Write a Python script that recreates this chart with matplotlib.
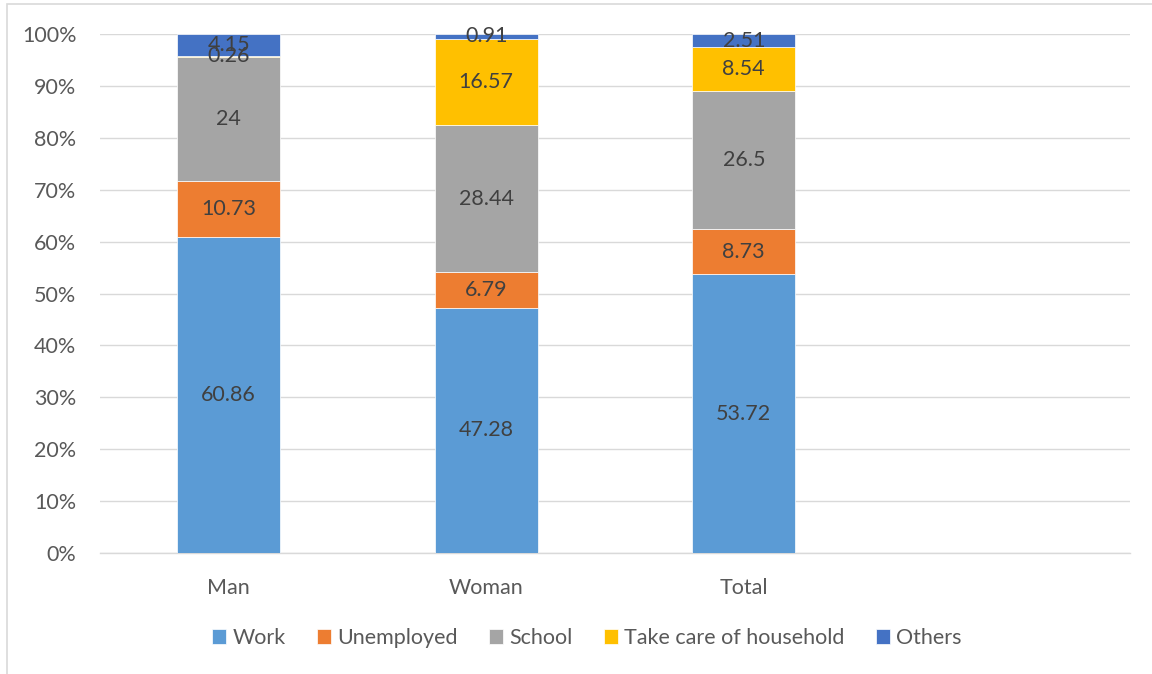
import matplotlib
matplotlib.use("Agg")
import matplotlib.pyplot as plt
from matplotlib.patches import Rectangle
import numpy as np

categories = ["Man", "Woman", "Total"]
series_names = ["Work", "Unemployed", "School", "Take care of household", "Others"]
work = [60.86, 47.28, 53.72]
unemployed = [10.73, 6.79, 8.73]
school = [24, 28.44, 26.5]
household = [0.26, 16.57, 8.54]
others = [4.15, 0.91, 2.51]
label_text = [
    ["60.86", "47.28", "53.72"],
    ["10.73", "6.79", "8.73"],
    ["24", "28.44", "26.5"],
    ["0.26", "16.57", "8.54"],
    ["4.15", "0.91", "2.51"],
]
colors = ["#5B9BD5", "#ED7D31", "#A5A5A5", "#FFC000", "#4472C4"]

plt.rcParams['font.family'] = ['Lato', 'DejaVu Sans']

fig = plt.figure(figsize=(11.52, 6.74), dpi=100)
ax = fig.add_axes([100/1152, 1-553/674, (1130-100)/1152, (553-34)/674])

data = [work, unemployed, school, household, others]
x = np.arange(len(categories))
bottom = np.zeros(len(categories))
totals = np.sum(np.array(data, dtype=float), axis=0)
for i, (vals, name, c) in enumerate(zip(data, series_names, colors)):
    vals = np.array(vals, dtype=float)
    pct = vals / totals * 100
    ax.bar(x, pct, bottom=bottom, width=0.4, color=c, label=name,
           edgecolor="white", linewidth=0.5, zorder=3)
    for j in range(len(categories)):
        ax.text(x[j], bottom[j] + pct[j] / 2, label_text[i][j], ha="center",
                va="center", fontsize=15.5, color="#404040", zorder=4)
    bottom += pct

ax.set_xlim(-0.5, 3.5)
ax.set_ylim(0, 100)
ax.set_yticks(np.arange(0, 101, 10))
ax.set_yticklabels([f"{v}%" for v in range(0, 101, 10)])
ax.set_xticks(x)
ax.set_xticklabels(categories)
ax.tick_params(axis="both", length=0, labelsize=15.5, labelcolor="#595959")
ax.tick_params(axis="y", pad=17)
ax.tick_params(axis="x", pad=18)
ax.grid(axis="y", color="#D9D9D9", linewidth=1, zorder=0)
for s in ["top", "right", "left"]:
    ax.spines[s].set_visible(False)
ax.spines["bottom"].set_color("#D9D9D9")
ax.spines["bottom"].set_linewidth(1)

leg = ax.legend(loc="center", bbox_to_anchor=(587/1152, 1-638/674),
                bbox_transform=fig.transFigure, ncol=5, frameon=False,
                fontsize=15.5, handlelength=0.65, handleheight=0.65,
                handletextpad=0.3, columnspacing=1.45)
for t in leg.get_texts():
    t.set_color("#595959")

fig.patches.append(Rectangle((7/1152, -0.05), 1.2, 1-4/674+0.05,
                             transform=fig.transFigure, fill=False,
                             edgecolor="#D9D9D9", linewidth=1.2))

fig.savefig("out.png", dpi=100)
